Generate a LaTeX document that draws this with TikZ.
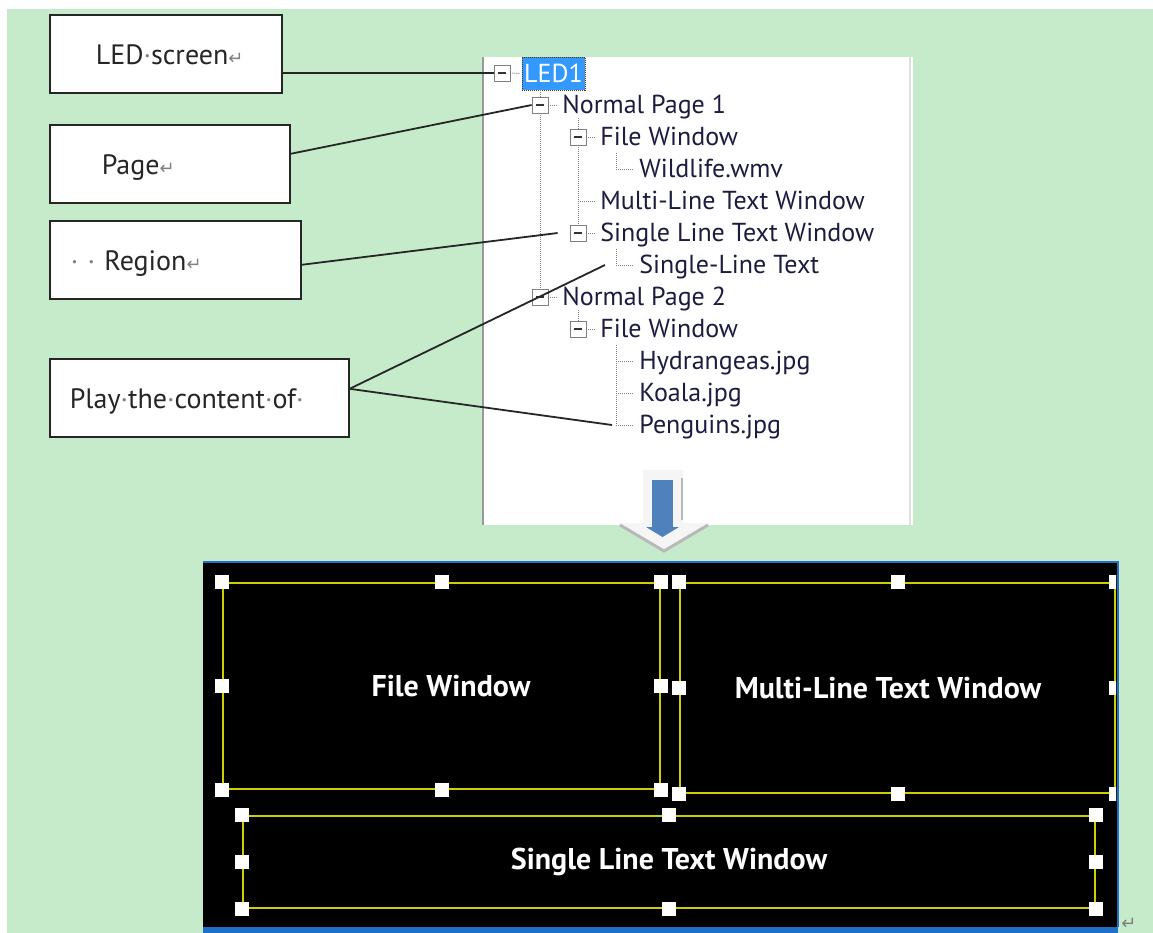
\documentclass[tikz,border=0pt]{standalone}
\usepackage{fontspec}
\setmainfont{PT Sans}
\newfontfamily\markfont{DejaVu Sans}
\usetikzlibrary{positioning,calc}
\definecolor{fondo}{HTML}{C6EBCB}
\definecolor{azulsel}{HTML}{3399FF}
\definecolor{azulflecha}{HTML}{4F81BD}
\definecolor{azulmarco}{HTML}{1E6FC8}
\definecolor{amarillo}{HTML}{CFCF00}
\definecolor{tinta}{HTML}{1C1C40}
\newcommand{\punto}{{\color{gray}\textperiodcentered}}
\newcommand{\retorno}{{\markfont\color{gray}\fontsize{9}{9}\selectfont ↵}}
\tikzstyle{etiqueta} = [draw=black!85, fill=white, thick, rectangle, anchor=north west, inner sep=0pt, align=left, minimum height=39pt, text height=15pt, text depth=4pt, text=black!85, font=\fontsize{14}{16}\selectfont]
\tikzstyle{hoja} = [anchor=west, inner sep=0pt, text=tinta, font=\fontsize{13}{15}\selectfont, text height=10.5pt, text depth=2pt]
\tikzstyle{menos} = [draw=gray, fill=white, minimum size=8pt, inner sep=0pt, path picture={\draw[black!80, thick] ([xshift=2pt]path picture bounding box.west) -- ([xshift=-2pt]path picture bounding box.east);}]
\tikzstyle{marcado} = [fill=azulsel, text=white, draw=black!60!orange, dash pattern=on 0.5pt off 0.5pt, minimum width=31.5pt, minimum height=16.5pt, inner sep=0pt, font=\fontsize{13}{15}\selectfont]
\tikzstyle{rama} = [gray, dash pattern=on 0.5pt off 0.5pt, line width=0.5pt]
\tikzstyle{enlace} = [black!85, line width=0.9pt]
\tikzstyle{ventana} = [draw=amarillo, line width=1pt, text=white, inner sep=0pt, font=\bfseries\fontsize{15}{17}\selectfont]
\tikzstyle{asa} = [fill=white, minimum size=7pt, inner sep=0pt]
\begin{document}
\begin{tikzpicture}[x=0.5pt,y=-0.5pt]
	\useasboundingbox (0,0) rectangle (1153,933);
	\fill[fondo] (7,9) rectangle (1153,933);
	\fill[white] (482,57) rectangle (913,525);
	\draw[gray!80, thick] (483,57) -- (483,525);
	\draw[gray!25, very thick] (910,57) -- (910,525);

	\node[etiqueta, text width=116pt] (led) at (49,14) {\hspace*{23pt}LED\punto screen\retorno};
	\node[etiqueta, text width=120pt] (page) at (49,124) {\hspace*{26pt}Page\retorno};
	\node[etiqueta, text width=125.5pt] (region) at (49,220) {\hspace*{10.5pt}\punto\ \punto\ Region\retorno};
	\node[etiqueta, text width=149.5pt] (play) at (49,358) {\hspace*{10pt}Play\punto the\punto content\punto of\punto};

	\node[menos] (m0) at (502,73) {};
	\node[marcado] (n0) at (553.5,73.5) {LED1};
	\node[menos] (m1) at (540,105) {};
	\node[hoja] (t1) at (562,105) {Normal Page 1};
	\node[menos] (m2) at (578,137) {};
	\node[hoja] (t2) at (600,137) {File Window};
	\node[hoja] (t3) at (639,169) {Wildlife.wmv};
	\node[hoja] (t4) at (600,201) {Multi-Line Text Window};
	\node[menos] (m5) at (578,233) {};
	\node[hoja] (t5) at (600,233) {Single Line Text Window};
	\node[hoja] (t6) at (639,265) {Single-Line Text};
	\node[menos] (m7) at (540,297) {};
	\node[hoja] (t7) at (562,297) {Normal Page 2};
	\node[menos] (m8) at (578,329) {};
	\node[hoja] (t8) at (600,329) {File Window};
	\node[hoja] (t9) at (639,361) {Hydrangeas.jpg};
	\node[hoja] (t10) at (639,393) {Koala.jpg};
	\node[hoja] (t11) at (639,425) {Penguins.jpg};

	\draw[rama] ([xshift=1pt]m0.east) -- ([xshift=-1pt]n0.west);
	\draw[rama] (n0.south -| m1) -- (m1.north);
	\draw[rama] (m1.south) -- (m7.north);
	\draw[rama] (t1.south -| m2) -- (m2.north);
	\draw[rama] (m2.south) -- (m5.north);
	\draw[rama] (t4.west -| m2) -- ([xshift=-2pt]t4.west);
	\draw[rama] (t7.south -| m8) -- (m8.north);
	\foreach \m/\t in {m1/t1,m2/t2,m5/t5,m7/t7,m8/t8}
		\draw[rama] ([xshift=1pt]\m.east) -- ([xshift=-2pt]\t.west);
	\draw[rama] ($(t3.west)+(-11.5pt,8pt)$) |- ([xshift=-3pt]t3.west);
	\draw[rama] ($(t6.west)+(-11.5pt,8pt)$) |- ([xshift=-3pt]t6.west);
	\draw[rama] ($(t9.west)+(-11.5pt,8pt)$) |- ([xshift=-3pt]t11.west);
	\draw[rama] ($(t9.west)+(-11.5pt,0)$) -- ([xshift=-3pt]t9.west);
	\draw[rama] ($(t10.west)+(-11.5pt,0)$) -- ([xshift=-3pt]t10.west);

	\draw[enlace] (led.east |- m0) -- (m0.west);
	\draw[enlace] ([yshift=5pt]page.east) -- (m1.west);
	\draw[enlace] ([yshift=-2.5pt]region.east) -- ([xshift=-6pt]m5.west);
	\draw[enlace] ([yshift=4.5pt]play.east) -- ([xshift=-17pt]t6.west);
	\draw[enlace] ([yshift=4.5pt]play.east) -- ([xshift=-13.5pt]t11.west);

	\fill[gray!8] (643,470) -- (683,470) -- (683,523) -- (710,523) -- (664,550) -- (618,523) -- (643,523) -- cycle;
	\draw[gray!55, line width=1.5pt] (620,525) -- (664,551) -- (708,525);
	\draw[gray!55, very thick] (682,478) -- (682,520);
	\fill[azulflecha] (652,480) rectangle (673,527);
	\fill[azulflecha] (646,527) -- (679,527) -- (662.5,537) -- cycle;

	\fill[black] (203,562) rectangle (1118,933);
	\fill[azulmarco] (203,927) rectangle (1118,933);
	\draw[azulmarco, thick] (203,562) -- (1118,562) -- (1118,927);
	\begin{scope}
		\clip (203,563) rectangle (1116,926);
		\node[ventana, minimum width=218.5pt, minimum height=103pt] (fw) at (441.5,686) {\hspace*{9.5pt}File Window};
		\node[ventana, minimum width=217.5pt, minimum height=105pt] (mw) at (897.5,688) {Multi-Line Text Window\hspace*{9.5pt}};
		\foreach \v in {fw,mw}
			\foreach \a in {north west,north,north east,west,east,south west,south,south east}
				\node[asa] at (\v.\a) {};
		\node[ventana, minimum width=426pt, minimum height=46pt] (sw) at (669,862) {Single Line Text Window};
		\foreach \a in {north west,north,north east,west,east,south west,south,south east}
			\node[asa] at (sw.\a) {};
	\end{scope}
	\node[inner sep=0pt] (fin) at (1129,924) {\retorno};
\end{tikzpicture}
\end{document}
